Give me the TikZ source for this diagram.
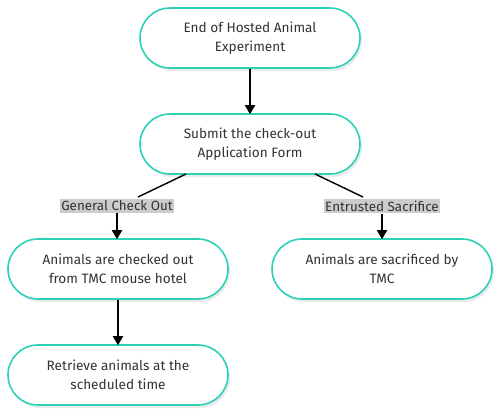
\documentclass[tikz,border=0pt]{standalone}
\usepackage{fontspec}
\setmainfont{Fira Sans}
\usetikzlibrary{arrows.meta,shadows}
\definecolor{teal1}{HTML}{2BD2B6}
\definecolor{txt}{HTML}{333333}
\definecolor{lblbg}{HTML}{CCCCCC}
\tikzset{
  stadium/.style={draw=teal1, line width=1.6pt, fill=white, rounded corners=30pt,
    minimum width=220pt, minimum height=60pt, inner sep=0pt, align=center,
    text=txt, font=\fontsize{13.6}{19}\selectfont,
    drop shadow={shadow xshift=2pt, shadow yshift=-3pt, fill=black, opacity=0.08}},
  lbl/.style={fill=lblbg, text=txt, inner xsep=1.2pt, inner ysep=2pt,
    font=\fontsize{13.4}{15}\selectfont},
  arr/.style={draw=black, line width=1.8pt, -{Triangle[width=10pt,length=9pt]}},
  seg/.style={draw=black, line width=1.4pt}
}
\begin{document}
\begin{tikzpicture}[x=1pt,y=-1pt]
\useasboundingbox (0,0) rectangle (500,413);
\node[stadium] (n1) at (250,38) {End of Hosted Animal\\Experiment};
\node[stadium] (n2) at (250,144) {Submit the check-out\\Application Form};
\node[stadium] (n3) at (118,269) {Animals are checked out\\from TMC mouse hotel};
\node[stadium] (n4) at (382,269) {Animals are sacrificed by\\TMC};
\node[stadium] (n5) at (118,375) {Retrieve animals at the\\scheduled time};
\node[lbl] (l1) at (117,206) {General Check Out};
\node[lbl] (l2) at (382,206) {Entrusted Sacrifice};
\coordinate (a1) at (186,174);
\coordinate (a2) at (138,197);
\coordinate (b1) at (315,174);
\coordinate (b2) at (363,197);
\draw[arr] (n1.south) -- ([yshift=-1pt]n2.north);
\draw[seg] (a1) -- (a2);
\draw[seg] (b1) -- (b2);
\draw[arr] (l1.south) -- ([yshift=-1pt]n3.north -| l1.south);
\draw[arr] (l2.south) -- ([yshift=-1pt]n4.north -| l2.south);
\draw[arr] (n3.south) -- ([yshift=-1pt]n5.north);
\end{tikzpicture}
\end{document}
